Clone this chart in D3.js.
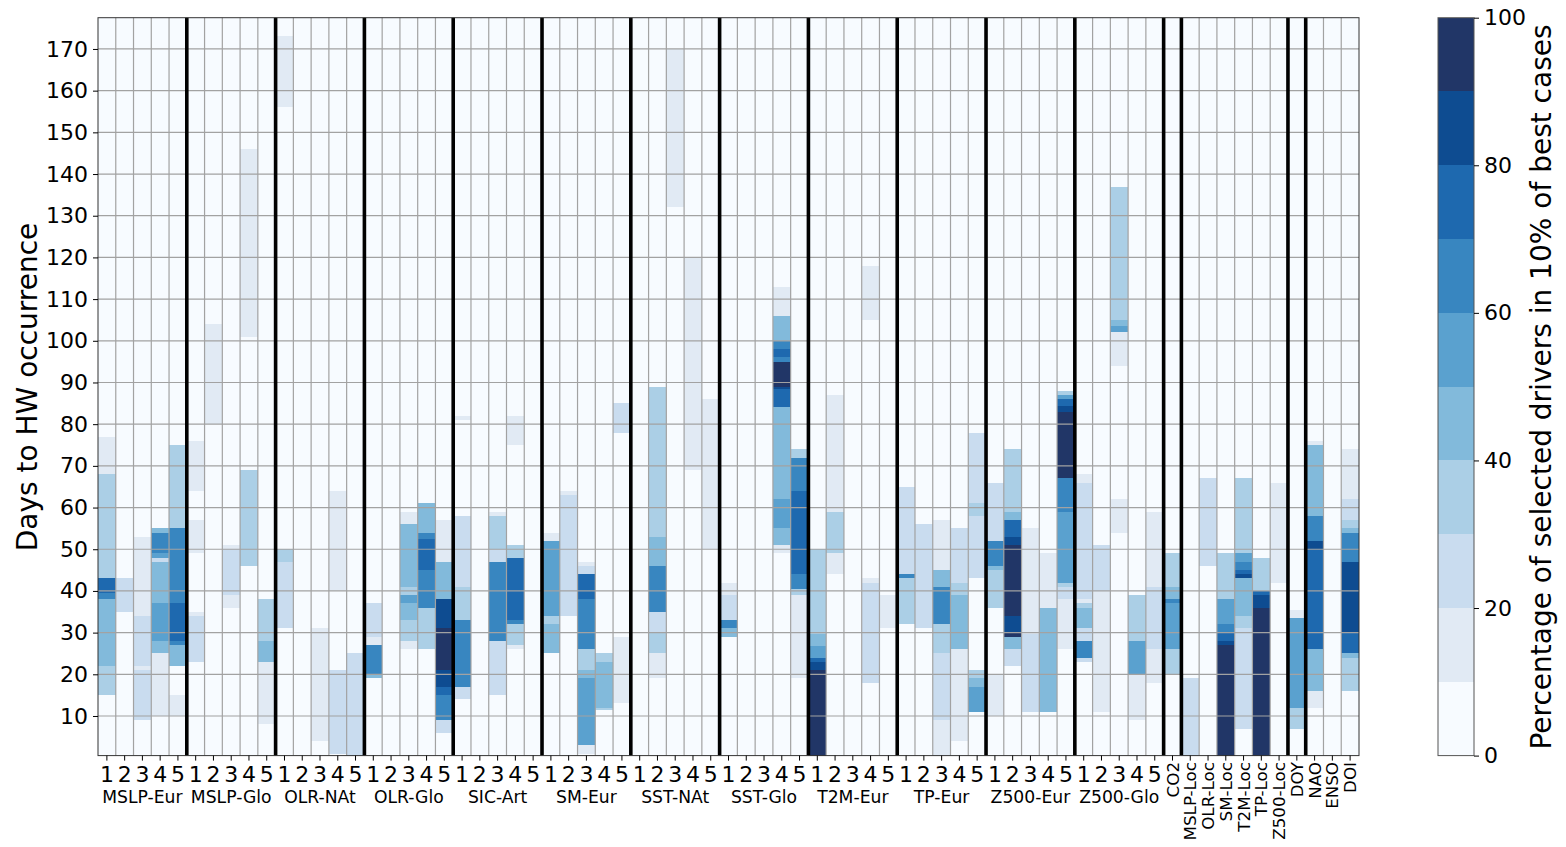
<!DOCTYPE html>
<html>
<head>
<meta charset="utf-8">
<script src="https://cdn.jsdelivr.net/npm/d3@7"></script>
<style>
  body { margin: 0; background: #fff; }
  text { font-family: "DejaVu Sans", sans-serif; fill: #000; }
</style>
</head>
<body>
<svg id="chart" width="1566" height="847"></svg>
<script>
// each column: list of [fromDay, toDay, percent]
const MSLP_Eur = [
  [[68,77,15],[43,68,35],[39.5,43,75],[38,39.5,65],[22,38,45],[15,22,35]],
  [[35,43,25]],
  [[34,53,15],[22,34,25],[21,22,15],[9,21,25]],
  [[54,55,45],[49,54,65],[48,49,55],[47,48,25],[37,47,45],[28,37,55],[25,28,45],[10,25,15]],
  [[55,75,35],[37,55,65],[28,37,75],[27,28,65],[22,27,45],[10,15,15]]
];
const MSLP_Glo = [
  [[64,76,15],[49,57,15],[34,35,15],[23,34,25]],
  [[80,104,15]],
  [[50,51,15],[39,50,25],[36,39,15]],
  [[101,146,15],[46,69,35]],
  [[28,38,35],[23,28,45],[8,23,15]]
];
const OLR_NAt = [
  [[156,173,15],[47,50,35],[31,47,25]],
  [],
  [[4,31,15]],
  [[40,64,15],[1,21,25]],
  [[0.5,25,25]]
];
const OLR_Glo = [
  [[29,37,25],[27,29,15],[20,27,65],[19,20,45]],
  [],
  [[56,59,15],[41,56,45],[39,41,35],[37,39,55],[33,37,45],[28,33,35],[26,28,15]],
  [[54,61,45],[52.5,54,65],[45,52.5,75],[36,45,65],[26,36,35]],
  [[47,57,15],[38,47,45],[31,38,85],[21,31,95],[17,21,85],[15,17,75],[9,15,65],[6,9,25]]
];
const SIC_Art = [
  [[81,82,15],[41,58,25],[33,41,35],[17,33,65],[14,17,25]],
  [],
  [[58,59,15],[50,58,35],[47,50,25],[28,47,65],[15,28,25]],
  [[75,82,15],[48,51,35],[33,48,75],[32,33,65],[27,32,35],[26,27,15]],
  []
];
const SM_Eur = [
  [[52,54,15],[34,52,55],[32,34,35],[25,32,45]],
  [[63,64,15],[34,63,25]],
  [[46,47,15],[44,46,25],[38,44,75],[26,38,65],[21,26,35],[19,21,45],[3,19,55],[1,3,15]],
  [[23,25,35],[12,23,45],[11.5,12,35]],
  [[78,85,25],[13,29,15]]
];
const SST_NAt = [
  [],
  [[53,89,35],[46,53,45],[35,46,65],[30,35,25],[25,30,35],[19,25,15]],
  [[132,170,15]],
  [[69,120,15]],
  [[50,86,15]]
];
const SST_Glo = [
  [[39,42,15],[33,39,25],[31,33,65],[29,31,45]],
  [],
  [],
  [[106,113,15],[100,106,45],[98,100,65],[96,98,75],[95,96,65],[89,95,95],[88.5,89,85],[84,88.5,75],[62,84,45],[55,62,55],[51,55,45],[49,51,15]],
  [[72,74,35],[64,72,65],[44,64,75],[40.5,44,65],[39,40.5,35],[19,39,15]]
];
const T2M_Eur = [
  [[29.6,50,35],[26.7,29.6,45],[24,26.7,55],[23,24,75],[21,23,85],[0.5,21,95]],
  [[59,87,15],[49,59,35],[44,49,15]],
  [],
  [[105,118,15],[42,43,15],[18,42,25]],
  [[31,39,15]]
];
const TP_Eur = [
  [[44,65,25],[43,44,65],[32,43,35]],
  [[31,56,25]],
  [[45,57,15],[41,45,45],[32,41,65],[25,32,35],[9,25,25],[0.5,9,15]],
  [[42,55,25],[39,42,35],[26,39,45],[4,26,15]],
  [[61,78,25],[58,61,35],[43,58,25],[19,21,35],[17,19,45],[11,17,55]]
];
const Z500_Eur = [
  [[52,66,25],[46,52,65],[45,46,45],[36,45,35],[10,20,15]],
  [[59,74,35],[57,59,45],[53,57,75],[51,53,85],[34,51,95],[30,34,85],[29,30,95],[26,29,45],[22,26,25]],
  [[29.6,55,15],[11,29.6,25]],
  [[36,49,15],[11,36,45]],
  [[87,88,35],[86,87,55],[84.3,86,75],[83,84.3,85],[67,83,95],[59,67,65],[42,59,55],[41,42,35],[38,41,25],[26,38,15]]
];
const Z500_Glo = [
  [[66,68,15],[38,66,25],[37,38,15],[36,37,35],[31,36,45],[28,31,25],[24,28,65],[23,24,25]],
  [[40,51,25],[11,40,15]],
  [[105,137,35],[103.5,105,45],[102,103.5,55],[94,102,15],[54,62,15]],
  [[28,39,35],[20,28,55],[9,20,15]],
  [[41,59,15],[26,41,25],[18,26,15]]
];
const CO2 = [[41,49,35],[38,41,45],[37,38,65],[26,37,55],[20,26,35]];
const MSLP_Loc = [[0.5,19,25]];
const OLR_Loc = [[46,67,25]];
const SM_Loc = [[38,49,35],[32,38,55],[30,32,65],[28,30,75],[27,28,85],[0.5,27,95]];
const T2M_Loc = [[49,67,35],[47,49,55],[45,47,65],[44,45,75],[43,44,85],[34,43,45],[31,34,35],[7,31,25]];
const TP_Loc = [[40,48,35],[39,40,75],[36,39,85],[0.5,36,95]];
const Z500_Loc = [[42,66,15]];
const DOY = [[33.5,35.5,15],[12,33.5,55],[7,12,35]];
const NAO = [[75,76,15],[58,75,45],[52,58,65],[50,52,85],[26,50,75],[16,26,45],[12,16,15]];
const ENSO = [];
const DOI = [[62,74,15],[57,62,25],[55,57,35],[54,55,45],[47,54,65],[30,47,85],[25,30,75],[24,25,45],[16,24,35]];

const groupNames = ["MSLP-Eur","MSLP-Glo","OLR-NAt","OLR-Glo","SIC-Art","SM-Eur","SST-NAt","SST-Glo","T2M-Eur","TP-Eur","Z500-Eur","Z500-Glo"];
const groupData = [MSLP_Eur,MSLP_Glo,OLR_NAt,OLR_Glo,SIC_Art,SM_Eur,SST_NAt,SST_Glo,T2M_Eur,TP_Eur,Z500_Eur,Z500_Glo];
const singleNames = ["CO2","MSLP-Loc","OLR-Loc","SM-Loc","T2M-Loc","TP-Loc","Z500-Loc","DOY","NAO","ENSO","DOI"];
const singleData = [CO2,MSLP_Loc,OLR_Loc,SM_Loc,T2M_Loc,TP_Loc,Z500_Loc,DOY,NAO,ENSO,DOI];
const lagLabels = ["1","2","3","4","5"];
const separators = [5,10,15,20,25,30,35,40,45,50,55,60,61,67,68];
const yTicks = d3.range(10, 171, 10);
const cbTicks = [0,20,40,60,80,100];
const binColors = ["#f7fbff","#e1eaf4","#c9dcef","#abcfe6","#82badb","#5aa1cf","#3886c0","#1e69af","#0e4c91","#213667"];

// flatten into columns
const columns = [];
groupData.forEach((g, gi) => g.forEach((segs, k) => columns.push({label: lagLabels[k], group: gi, segs})));
singleData.forEach((segs, si) => columns.push({label: singleNames[si], group: -1, segs}));

const svg = d3.select("#chart");
const plotLeft = 98, plotRight = 1359, plotTop = 17.7, plotBottom = 755.6;

const x = d3.scaleBand().domain(d3.range(columns.length)).range([plotLeft, plotRight]);
const y = d3.scaleLinear().domain([0.5, 177.5]).range([plotBottom, plotTop]);
const color = d3.scaleThreshold().domain(d3.range(10, 100, 10)).range(binColors);

svg.append("rect")
  .attr("x", plotLeft).attr("y", plotTop)
  .attr("width", plotRight - plotLeft).attr("height", plotBottom - plotTop)
  .attr("fill", binColors[0]);

const cells = [];
columns.forEach((c, i) => c.segs.forEach(s => cells.push({i, from: s[0], to: s[1], v: s[2]})));

svg.append("g")
  .selectAll("rect")
  .data(cells)
  .join("rect")
  .attr("x", d => x(d.i))
  .attr("width", x.bandwidth())
  .attr("y", d => y(d.to))
  .attr("height", d => y(d.from) - y(d.to))
  .attr("fill", d => color(d.v))
  .attr("shape-rendering", "crispEdges");

// grid
const grid = svg.append("g").attr("stroke", "#a2a2a2").attr("stroke-width", 1.2);
grid.selectAll("line.h")
  .data(yTicks)
  .join("line")
  .attr("class", "h")
  .attr("x1", plotLeft).attr("x2", plotRight)
  .attr("y1", d => y(d)).attr("y2", d => y(d));
grid.selectAll("line.v")
  .data(d3.range(1, columns.length))
  .join("line")
  .attr("class", "v")
  .attr("x1", d => x(d)).attr("x2", d => x(d))
  .attr("y1", plotTop).attr("y2", plotBottom);

// group separators
svg.append("g")
  .selectAll("line")
  .data(separators)
  .join("line")
  .attr("x1", d => x(d)).attr("x2", d => x(d))
  .attr("y1", plotTop).attr("y2", plotBottom)
  .attr("stroke", "#000").attr("stroke-width", 3.6);

svg.append("rect")
  .attr("x", plotLeft).attr("y", plotTop)
  .attr("width", plotRight - plotLeft).attr("height", plotBottom - plotTop)
  .attr("fill", "none").attr("stroke", "#333").attr("stroke-width", 1);

// y axis
const yAxis = svg.append("g")
  .attr("transform", `translate(${plotLeft},0)`)
  .call(d3.axisLeft(y).tickValues(yTicks).tickSize(5).tickPadding(5));
yAxis.select(".domain").remove();
yAxis.selectAll("text").style("font-size", "22px").attr("font-family", null);

svg.append("text")
  .attr("transform", "translate(37,387) rotate(-90)")
  .attr("text-anchor", "middle")
  .style("font-size", "28px")
  .text("Days to HW occurrence");

// x ticks
const cx = i => x(i) + x.bandwidth() / 2;
svg.append("g")
  .selectAll("line")
  .data(columns)
  .join("line")
  .attr("x1", (d, i) => cx(i)).attr("x2", (d, i) => cx(i))
  .attr("y1", plotBottom).attr("y2", plotBottom + 5)
  .attr("stroke", "#000");

svg.append("g")
  .selectAll("text")
  .data(columns.filter(c => c.group >= 0))
  .join("text")
  .attr("x", (d, i) => cx(i))
  .attr("y", 782)
  .attr("text-anchor", "middle")
  .style("font-size", "22px")
  .text(d => d.label);

const nGroupCols = groupNames.length * 5;
svg.append("g")
  .selectAll("text")
  .data(groupNames)
  .join("text")
  .attr("x", (d, gi) => (x(gi * 5) + x(gi * 5 + 4) + x.bandwidth()) / 2)
  .attr("y", 803)
  .attr("text-anchor", "middle")
  .style("font-size", "17.2px")
  .text(d => d);

svg.append("g")
  .selectAll("text")
  .data(singleNames)
  .join("text")
  .attr("transform", (d, si) => `translate(${cx(nGroupCols + si) + 6},762) rotate(-90)`)
  .attr("text-anchor", "end")
  .style("font-size", "16.7px")
  .text(d => d);

// colorbar
const cbLeft = 1438, cbWidth = 36;
const cy = d3.scaleLinear().domain([0, 100]).range([plotBottom, plotTop]);
svg.append("g")
  .selectAll("rect")
  .data(binColors)
  .join("rect")
  .attr("x", cbLeft).attr("width", cbWidth)
  .attr("y", (d, k) => cy((k + 1) * 10))
  .attr("height", (d, k) => cy(k * 10) - cy((k + 1) * 10))
  .attr("fill", d => d)
  .attr("shape-rendering", "crispEdges");
svg.append("rect")
  .attr("x", cbLeft).attr("y", plotTop)
  .attr("width", cbWidth).attr("height", plotBottom - plotTop)
  .attr("fill", "none").attr("stroke", "#555").attr("stroke-width", 1);

const cbAxis = svg.append("g")
  .attr("transform", `translate(${cbLeft + cbWidth},0)`)
  .call(d3.axisRight(cy).tickValues(cbTicks).tickSize(5).tickPadding(5));
cbAxis.select(".domain").remove();
cbAxis.selectAll("text").style("font-size", "22px").attr("font-family", null);

svg.append("text")
  .attr("transform", "translate(1551,387) rotate(-90)")
  .attr("text-anchor", "middle")
  .style("font-size", "28px")
  .text("Percentage of selected drivers in 10% of best cases");
</script>
</body>
</html>
